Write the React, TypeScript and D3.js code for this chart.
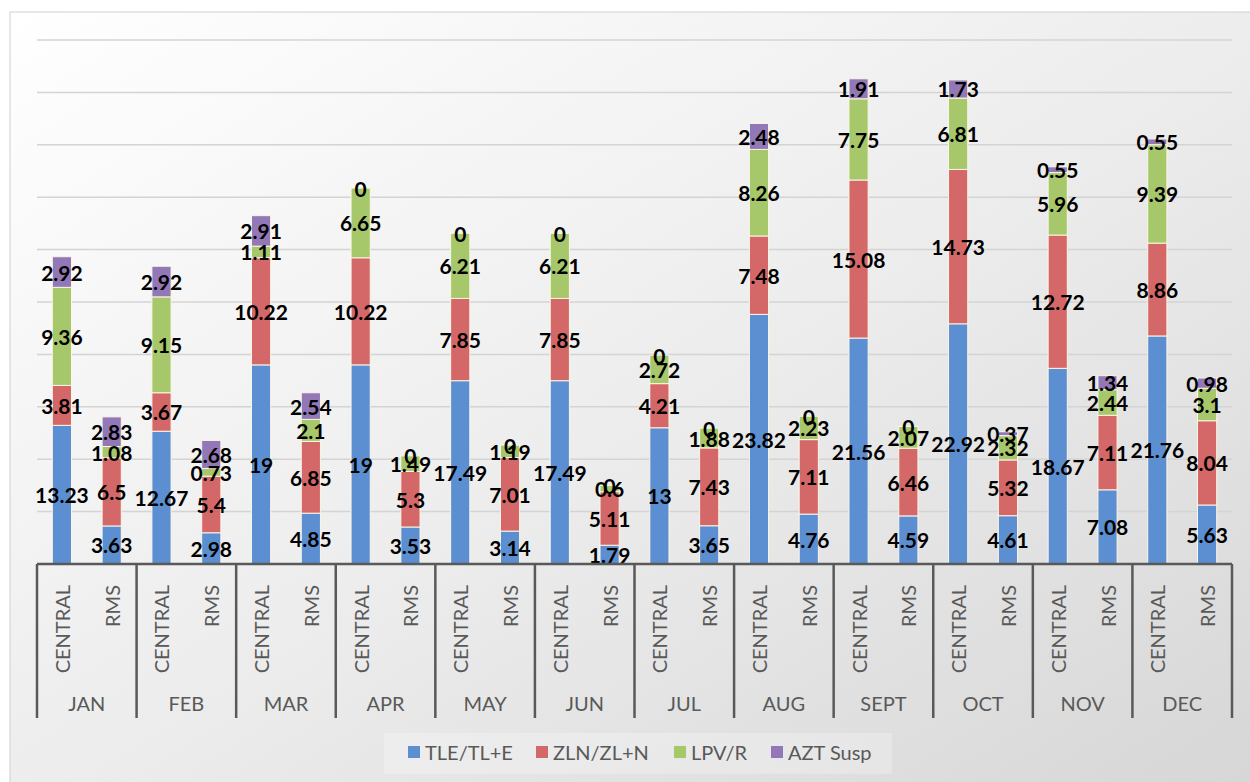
import * as d3 from "d3";

const MONTHS = ["JAN", "FEB", "MAR", "APR", "MAY", "JUN", "JUL", "AUG", "SEPT", "OCT", "NOV", "DEC"];
const SITES = ["CENTRAL", "RMS"];
const SERIES = ["TLE/TL+E", "ZLN/ZL+N", "LPV/R", "AZT Susp"];
const COLORS = ["#5b8fd1", "#d46868", "#a6c86a", "#9278b6"];

// values per month, [CENTRAL, RMS]
const TLE = [[13.23, 3.63], [12.67, 2.98], [19, 4.85], [19, 3.53], [17.49, 3.14], [17.49, 1.79], [13, 3.65], [23.82, 4.76], [21.56, 4.59], [22.92, 4.61], [18.67, 7.08], [21.76, 5.63]];
const ZLN = [[3.81, 6.5], [3.67, 5.4], [10.22, 6.85], [10.22, 5.3], [7.85, 7.01], [7.85, 5.11], [4.21, 7.43], [7.48, 7.11], [15.08, 6.46], [14.73, 5.32], [12.72, 7.11], [8.86, 8.04]];
const LPV = [[9.36, 1.08], [9.15, 0.73], [1.11, 2.1], [6.65, 1.49], [6.21, 1.19], [6.21, 0.6], [2.72, 1.88], [8.26, 2.23], [7.75, 2.07], [6.81, 2.32], [5.96, 2.44], [9.39, 3.1]];
const AZT = [[2.92, 2.83], [2.92, 2.68], [2.91, 2.54], [0, 0], [0, 0], [0, 0], [0, 0], [2.48, 0], [1.91, 0], [1.73, 0.37], [0.55, 1.34], [0.55, 0.98]];
const Y_TICKS = d3.range(0, 51, 5);

const W = 1250;
const H = 782;
const FONT = "Lato, 'Open Sans', sans-serif";

type Row = { month: string; site: string; values: number[] };

export default function App() {
  const rows: Row[] = [];
  MONTHS.forEach((m, i) => {
    SITES.forEach((s, j) => {
      rows.push({ month: m, site: s, values: [TLE[i][j], ZLN[i][j], LPV[i][j], AZT[i][j]] });
    });
  });

  const left = 37;
  const right = 1232;
  const base = 564;
  const top = 40;

  const x0 = d3.scaleBand<string>().domain(MONTHS).range([left, right]);
  const x1 = d3
    .scaleBand<string>()
    .domain(SITES)
    .range([0, x0.bandwidth()])
    .paddingInner(0.615)
    .paddingOuter(0.3075);
  const y = d3.scaleLinear().domain([0, 50]).range([base, top]);

  const stack = d3
    .stack<Row, number>()
    .keys([0, 1, 2, 3])
    .value((d, k) => d.values[k]);
  const layers = stack(rows);

  const legendW = [128, 138, 97, 100];
  const legendX = d3.cumsum([408, ...legendW]);

  return (
    <svg
      width={W}
      height={H}
      style={{ position: "absolute", left: 0, top: 0, fontFamily: FONT }}
    >
      <defs>
        <linearGradient id="bg" x1="0" y1="0" x2="1" y2="1">
          <stop offset="0" stopColor="#ffffff" />
          <stop offset="0.5" stopColor="#ededed" />
          <stop offset="1" stopColor="#d6d6d6" />
        </linearGradient>
      </defs>
      <rect x={0} y={0} width={W} height={H} fill="#fff" />
      <rect x={10} y={12} width={W} height={H} fill="url(#bg)" stroke="#d0d0d0" strokeWidth={1} />

      {/* gridlines */}
      {Y_TICKS.slice(1).map((t) => (
        <line key={t} x1={left} x2={right} y1={y(t)} y2={y(t)} stroke="#d4d4d4" strokeWidth={1.5} />
      ))}

      {/* bars */}
      {layers.map((layer, k) => (
        <g key={k} fill={COLORS[k]}>
          {layer.map((d, i) => (
            <rect
              key={i}
              x={x0(d.data.month)! + x1(d.data.site)!}
              y={y(d[1])}
              width={x1.bandwidth()}
              height={y(d[0]) - y(d[1])}
              stroke="#fbf6e6"
              strokeWidth={d[1] - d[0] > 0 ? 1 : 0}
            />
          ))}
        </g>
      ))}

      {/* data labels */}
      {layers.map((layer, k) => (
        <g key={k} fontSize={21} fontWeight={700} fill="#000" textAnchor="middle">
          {layer.map((d, i) => (
            <text
              key={i}
              x={x0(d.data.month)! + x1(d.data.site)! + x1.bandwidth() / 2}
              y={y((d[0] + d[1]) / 2)}
              dominantBaseline="central"
            >
              {d.data.values[k]}
            </text>
          ))}
        </g>
      ))}

      {/* category axis */}
      <line x1={left} x2={right} y1={base} y2={base} stroke="#595959" strokeWidth={2.5} />
      {[...MONTHS.map((m) => x0(m)!), right].map((xv, i) => (
        <line key={i} x1={xv} x2={xv} y1={base} y2={718} stroke="#595959" strokeWidth={2.5} />
      ))}
      {rows.map((r, i) => {
        const cx = x0(r.month)! + x1(r.site)! + x1.bandwidth() / 2;
        return (
          <text
            key={i}
            transform={`translate(${cx},585) rotate(-90)`}
            textAnchor="end"
            dominantBaseline="central"
            fontSize={20}
            fill="#595959"
          >
            {r.site}
          </text>
        );
      })}
      {MONTHS.map((m) => (
        <text
          key={m}
          x={x0(m)! + x0.bandwidth() / 2}
          y={703}
          textAnchor="middle"
          dominantBaseline="central"
          fontSize={20}
          fill="#595959"
        >
          {m}
        </text>
      ))}

      {/* legend */}
      <rect x={384} y={733} width={508} height={41} fill="#ffffff" opacity={0.25} />
      {SERIES.map((s, i) => (
        <g key={s} transform={`translate(${legendX[i]},752)`}>
          <rect x={0} y={-6} width={12} height={12} fill={COLORS[i]} />
          <text x={17} y={0} dominantBaseline="central" fontSize={20} fill="#595959">
            {s}
          </text>
        </g>
      ))}
    </svg>
  );
}
